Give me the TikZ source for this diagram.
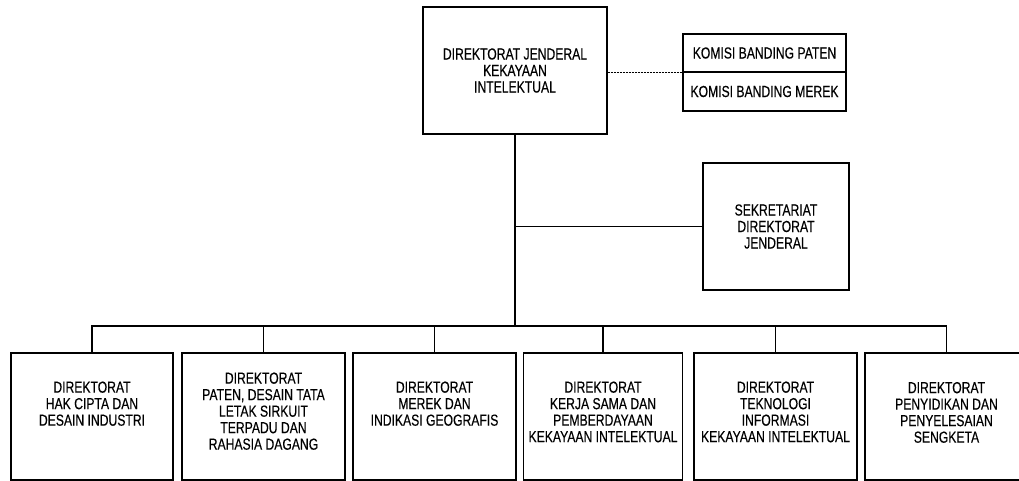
\documentclass[tikz,border=0pt]{standalone}
\usepackage{fontspec}
\setmainfont{Liberation Sans}[FakeStretch=0.76,FakeBold=0.35]

\begin{document}
\begin{tikzpicture}[x=1pt,y=-1pt,line width=1.1pt,
    txt/.style={align=center,inner sep=1pt,font=\fontsize{16}{16.5}\selectfont},
    unit/.style={draw,txt,minimum height=127pt},
    komisi/.style={draw,txt,minimum width=163pt}]
    \clip (0,0) rectangle (1019,481);

    \node[unit,minimum width=184pt] (DJ) at (515,70.5) {DIREKTORAT JENDERAL\\KEKAYAAN\\INTELEKTUAL};
    \node[komisi,minimum height=38pt] (KP) at (764.5,53) {KOMISI BANDING PATEN};
    \node[komisi,minimum height=39pt] (KM) at (764.5,91.5) {KOMISI BANDING MEREK};
    \node[unit,minimum width=146pt] (Sek) at (776,226.5) {SEKRETARIAT\\DIREKTORAT\\JENDERAL};

    % Directorates
    \node[unit,minimum width=162pt] (B1) at (92,416.5) {};
    \node[unit,minimum width=163pt] (B2) at (263.5,416.5) {};
    \node[unit,minimum width=163pt] (B3) at (434.5,416.5) {};
    \node[unit,minimum width=159pt] (B4) at (603,416.5) {};
    \node[unit,minimum width=163pt] (B5) at (775.5,416.5) {};
    \node[unit,minimum width=163pt] (B6) at (946.5,416.5) {};
    \node[txt,anchor=north] (T1) at ([yshift=-27.5pt]B1.north) {DIREKTORAT\\HAK CIPTA DAN\\DESAIN INDUSTRI};
    \node[txt,anchor=north] (T2) at ([yshift=-18.5pt]B2.north) {DIREKTORAT\\PATEN, DESAIN TATA\\LETAK SIRKUIT\\TERPADU DAN\\RAHASIA DAGANG};
    \node[txt,anchor=north] (T3) at ([yshift=-27.5pt]B3.north) {DIREKTORAT\\MEREK DAN\\INDIKASI GEOGRAFIS};
    \node[txt,anchor=north] (T4) at ([yshift=-27.5pt]B4.north) {DIREKTORAT\\KERJA SAMA DAN\\PEMBERDAYAAN\\KEKAYAAN INTELEKTUAL};
    \node[txt,anchor=north] (T5) at ([yshift=-27.5pt]B5.north) {DIREKTORAT\\TEKNOLOGI\\INFORMASI\\KEKAYAAN INTELEKTUAL};
    \node[txt,anchor=north] (T6) at ([yshift=-28pt]B6.north) {DIREKTORAT\\PENYIDIKAN DAN\\PENYELESAIAN\\SENGKETA};

    \coordinate (J) at (515,326);

    % Lines
    \draw[dash pattern=on 2pt off 1pt] (DJ.east |- KP.south) -- (KP.south west);
    \draw (DJ.south) -- (J);
    \draw (DJ.south |- Sek.west) -- (Sek.west);
    \draw (B1.north) |- (J) -| (B6.north);
    \foreach \b in {B2,B3,B4,B5}
        \draw (\b.north) -- (\b.north |- J);
\end{tikzpicture}
\end{document}
